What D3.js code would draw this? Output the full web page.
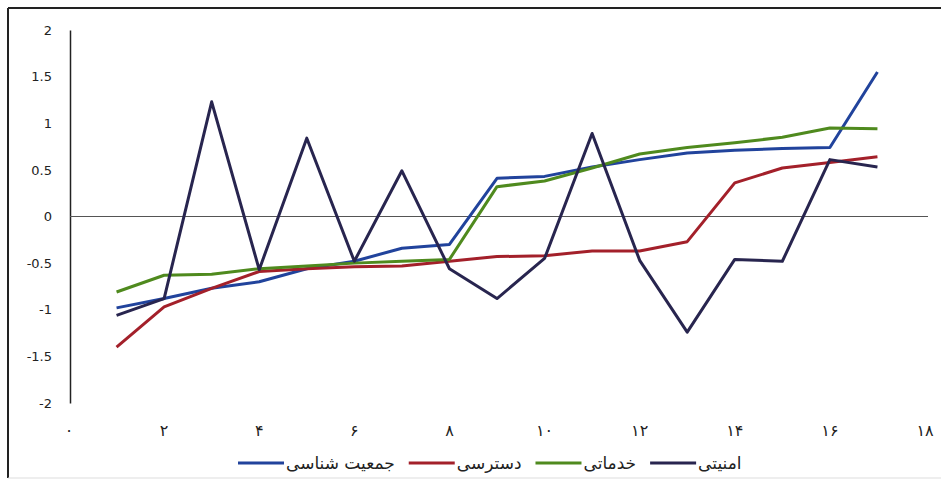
<!DOCTYPE html>
<html>
<head>
<meta charset="utf-8">
<script src="https://cdn.jsdelivr.net/npm/d3@7"></script>
<style>
  body { margin: 0; background: #fff; }
  text { font-family: "DejaVu Sans", sans-serif; }
</style>
</head>
<body>
<div id="chart"></div>
<script>
// chart size
var width = 941;
var height = 482;

// x positions 1..17
var points = [1, 2, 3, 4, 5, 6, 7, 8, 9, 10, 11, 12, 13, 14, 15, 16, 17];

// series values
var demographic = [-0.98, -0.88, -0.77, -0.70, -0.56, -0.48, -0.34, -0.30, 0.41, 0.43, 0.53, 0.61, 0.68, 0.71, 0.73, 0.74, 1.55];
var access = [-1.40, -0.97, -0.77, -0.59, -0.56, -0.54, -0.53, -0.48, -0.43, -0.42, -0.37, -0.37, -0.27, 0.36, 0.52, 0.58, 0.64];
var services = [-0.81, -0.63, -0.62, -0.56, -0.53, -0.50, -0.48, -0.46, 0.32, 0.38, 0.52, 0.67, 0.74, 0.79, 0.85, 0.95, 0.94];
var security = [-1.06, -0.88, 1.23, -0.57, 0.84, -0.48, 0.49, -0.56, -0.88, -0.45, 0.89, -0.47, -1.24, -0.46, -0.48, 0.61, 0.53];

var seriesNames = ["جمعیت شناسی", "دسترسی", "خدماتی", "امنیتی"];
var seriesColors = ["#21439c", "#a3202a", "#4f8a1e", "#28254f"];
var seriesData = [demographic, access, services, security];

// tick labels
var xTickValues = [0, 2, 4, 6, 8, 10, 12, 14, 16, 18];
var xTickLabels = ["۰", "۲", "۴", "۶", "۸", "۱۰", "۱۲", "۱۴", "۱۶", "۱۸"];
var yTickValues = [2, 1.5, 1, 0.5, 0, -0.5, -1, -1.5, -2];

var svg = d3.select("#chart").append("svg")
	.attr("width", width)
	.attr("height", height);

// frame
svg.append("line").attr("x1", 8).attr("y1", 8).attr("x2", width).attr("y2", 8)
	.attr("stroke", "#222").attr("stroke-width", 2);
svg.append("line").attr("x1", 8).attr("y1", 8).attr("x2", 8).attr("y2", 478)
	.attr("stroke", "#222").attr("stroke-width", 2);
svg.append("line").attr("x1", 8).attr("y1", 478).attr("x2", width).attr("y2", 478)
	.attr("stroke", "#ddd").attr("stroke-width", 1);

var x = d3.scaleLinear().domain([0, 18]).range([69, 925]);
var y = d3.scaleLinear().domain([-2, 2]).range([403, 30]);

// y axis
var yAxis = d3.axisLeft(y)
	.tickValues(yTickValues)
	.tickSize(0)
	.tickPadding(18)
	.tickFormat(function(d){ return d; });

var gy = svg.append("g")
	.attr("transform", "translate(70,0)")
	.call(yAxis);
gy.select(".domain").attr("stroke", "#222").attr("stroke-width", 1.5);
gy.selectAll("text")
	.attr("font-size", 13)
	.attr("fill", "#222")
	.style("font-family", "DejaVu Sans");

// zero line
svg.append("line")
	.attr("x1", 70).attr("x2", 928)
	.attr("y1", y(0)).attr("y2", y(0))
	.attr("stroke", "#555").attr("stroke-width", 1.2);

// x tick labels
svg.append("g").selectAll("text")
	.data(xTickValues)
	.enter()
	.append("text")
	.attr("x", function(d){ return x(d); })
	.attr("y", 430)
	.attr("dy", "0.35em")
	.attr("text-anchor", "middle")
	.attr("font-size", 16)
	.attr("fill", "#222")
	.text(function(d, i){ return xTickLabels[i]; });

// lines
var line = d3.line()
	.x(function(d, i){ return x(points[i]); })
	.y(function(d){ return y(d); });

svg.append("g").selectAll("path")
	.data(seriesData)
	.enter()
	.append("path")
	.attr("d", line)
	.attr("fill", "none")
	.attr("stroke", function(d, i){ return seriesColors[i]; })
	.attr("stroke-width", 3)
	.attr("stroke-linejoin", "round");

// legend: line then name, left to right
var legend = svg.append("g");
var lx = 238;
for (var i = 0; i < seriesNames.length; i++){
	legend.append("line")
		.attr("x1", lx).attr("x2", lx + 46)
		.attr("y1", 463).attr("y2", 463)
		.attr("stroke", seriesColors[i])
		.attr("stroke-width", 3);
	var t = legend.append("text")
		.attr("x", lx + 48)
		.attr("y", 463)
		.attr("dy", "0.35em")
		.attr("font-size", 17)
		.attr("fill", "#222")
		.attr("text-anchor", "start")
		.text(seriesNames[i]);
	lx = lx + 48 + t.node().getComputedTextLength() + 14;
}
</script>
</body>
</html>
